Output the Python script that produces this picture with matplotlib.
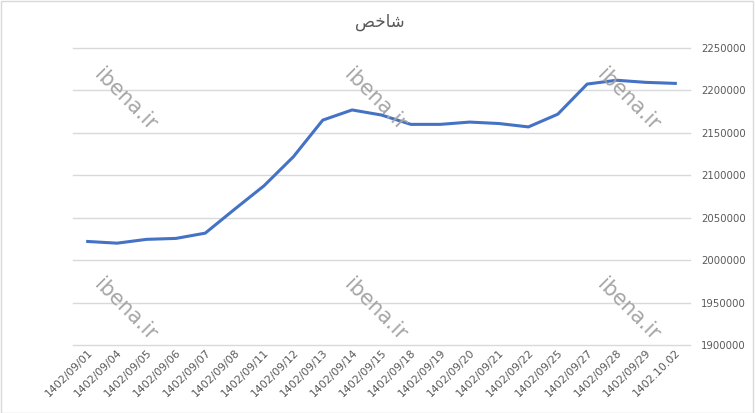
import matplotlib
matplotlib.use("Agg")
import matplotlib.pyplot as plt

# تاریخ ها و مقدار شاخص
dates = ["1402/09/01", "1402/09/04", "1402/09/05", "1402/09/06", "1402/09/07",
         "1402/09/08", "1402/09/11", "1402/09/12", "1402/09/13", "1402/09/14",
         "1402/09/15", "1402/09/18", "1402/09/19", "1402/09/20", "1402/09/21",
         "1402/09/22", "1402/09/25", "1402/09/27", "1402/09/28", "1402/09/29",
         "1402.10.02"]
values = [2022000, 2020000, 2024500, 2025600, 2031800,
          2060000, 2087600, 2121800, 2165000, 2177000,
          2171000, 2160000, 2160000, 2162700, 2161000,
          2157000, 2172000, 2207500, 2212000, 2209500,
          2208300]
y_ticks = [1900000, 1950000, 2000000, 2050000, 2100000, 2150000, 2200000, 2250000]

# عنوان با حروف شکل یافته (شاخص)
title = "\uFEBA\uFEA7\uFE8E\uFEB7"

fig = plt.figure(figsize=(7.55, 4.13), dpi=100)
ax = fig.add_axes([73 / 755, 1 - 345 / 413, 617 / 755, 297 / 413])

x = list(range(len(dates)))
ax.plot(x, values, color="#4472C4", linewidth=2.2, solid_joinstyle="round")

ax.set_xlim(-0.5, len(dates) - 0.5)
ax.set_ylim(1900000, 2250000)
ax.set_yticks(y_ticks)
ax.set_yticklabels([str(v) for v in y_ticks])
ax.yaxis.tick_right()
ax.grid(axis="y", color="#d9d9d9", linewidth=1)
for g in ax.yaxis.get_gridlines():
    g.set_clip_on(False)
ax.set_axisbelow(True)
ax.tick_params(axis="y", length=0, pad=8, labelsize=7.3, labelcolor="#595959")
ax.tick_params(axis="x", length=0, pad=2, labelsize=7.8, labelcolor="#595959")
ax.set_xticks(x)
ax.set_xticklabels(dates, rotation=45, ha="right", rotation_mode="anchor")
for s in ax.spines.values():
    s.set_visible(False)

fig.text(380 / 755, 1 - 22 / 413, title, ha="center", va="center",
         fontsize=12, color="#595959", family="DejaVu Sans")

# واترمارک
for wx in [125, 375, 628]:
    for wy in [100, 310]:
        fig.text(wx / 755, 1 - wy / 413, "ibena.ir", ha="center", va="center",
                 rotation=-45, fontsize=15, color="#a6a6a6")

# قاب دور نمودار
frame = plt.Rectangle((0.001, 0.001), 0.997, 0.997, transform=fig.transFigure,
                      fill=False, edgecolor="#d9d9d9", linewidth=1)
fig.patches.append(frame)

fig.savefig("out.png", dpi=100)
